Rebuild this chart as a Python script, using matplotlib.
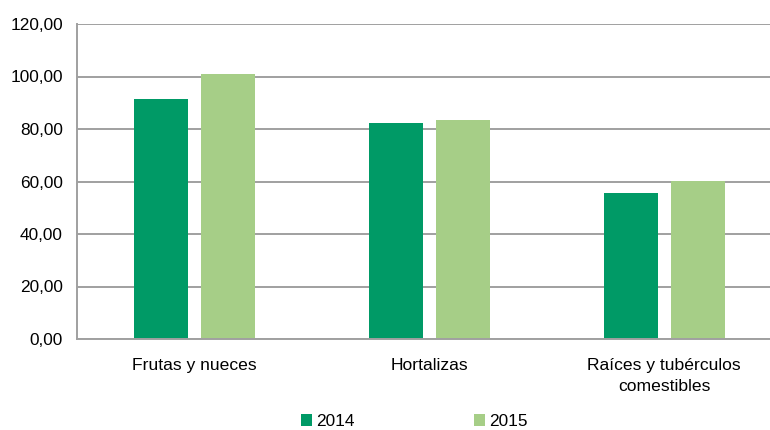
import matplotlib
matplotlib.use("Agg")
import matplotlib.pyplot as plt
from matplotlib.patches import Patch
import numpy as np

categories = ["Frutas y nueces", "Hortalizas", "Raíces y tubérculos\ncomestibles"]
series_names = ["2014", "2015"]
values_2014 = [91.4, 82.3, 55.6]
values_2015 = [101.0, 83.4, 60.2]
yticks = [0, 20, 40, 60, 80, 100, 120]

c2014 = "#009A66"
c2015 = "#A6CE87"
grid_c = "#A0A0A0"

plt.rcParams['font.family'] = ['Liberation Sans', 'DejaVu Sans']

fig = plt.figure(figsize=(7.7, 4.3), dpi=100)
ax = fig.add_axes([76.7/770, 1-339/430, 705/770, 315/430])

x = np.arange(len(categories))
w = 0.23
off = 0.1426
ax.bar(x - off, values_2014, width=w, color=c2014, zorder=3)
ax.bar(x + off, values_2015, width=w, color=c2015, zorder=3)

ax.set_xlim(-0.5, 2.5)
ax.set_ylim(0, 120)
ax.set_yticks(yticks)
ax.set_yticklabels([f"{v:.2f}".replace(".", ",") for v in yticks], fontsize=12.4, color="#000000")
ax.set_xticks(x)
ax.set_xticklabels(categories, fontsize=12.6, color="#000000", linespacing=1.45)
ax.tick_params(axis='y', length=0, pad=10)
ax.tick_params(axis='x', length=0, pad=14)

ax.yaxis.grid(True, color=grid_c, linewidth=1.4, zorder=0)
ax.set_axisbelow(True)
for s in ["top", "right"]:
    ax.spines[s].set_visible(False)
for s in ["left", "bottom"]:
    ax.spines[s].set_color(grid_c)
    ax.spines[s].set_linewidth(1.4)
ax.spines["left"].set_zorder(4)
ax.spines["bottom"].set_zorder(4)

handles = [Patch(facecolor=c2014, edgecolor='none'), Patch(facecolor=c2015, edgecolor='none')]
fig.legend(handles, series_names, loc='center', bbox_to_anchor=(414.5/770, 1-421.7/430),
           ncol=2, frameon=False, fontsize=12.4, handlelength=0.66, handleheight=0.66,
           handletextpad=0.24, columnspacing=6.9, borderpad=0, borderaxespad=0)

fig.savefig("out.png", dpi=100)
